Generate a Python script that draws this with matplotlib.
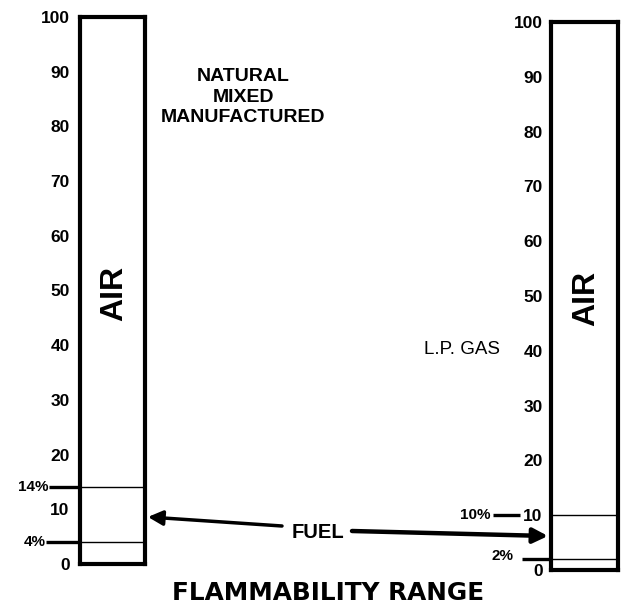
import matplotlib
matplotlib.use("Agg")
import matplotlib.pyplot as plt
import matplotlib.transforms as mtransforms
from matplotlib.patches import ConnectionPatch

NARROW = ['Liberation Sans Narrow', 'Liberation Sans', 'DejaVu Sans']

# data
scale_ticks = [0, 10, 20, 30, 40, 50, 60, 70, 80, 90, 100]
bar_max = 100
gas_names = ["NATURAL\nMIXED\nMANUFACTURED", "L.P. GAS"]
lower_limits = [4, 2]
upper_limits = [14, 10]
lower_labels = ["4%", "2%"]
upper_labels = ["14%", "10%"]
bar_label = "AIR"
fuel_label = "FUEL"
title = "FLAMMABILITY RANGE"

W, H = 622, 612
fig = plt.figure(figsize=(W / 100, H / 100), dpi=100)
fig.patch.set_facecolor("white")

def px_axes(x0, x1, ytop, ybot):
    return fig.add_axes([x0 / W, 1 - ybot / H, (x1 - x0) / W, (ybot - ytop) / H])

axL = px_axes(80, 145, 17, 564)
axR = px_axes(551, 618, 22, 570)

for ax, pad in ((axL, 7.5), (axR, 6.0)):
    ax.set_xlim(0, 1)
    ax.set_ylim(0, bar_max)
    ax.set_xticks([])
    ax.set_yticks(scale_ticks)
    ax.set_yticklabels([str(t) for t in scale_ticks], family=NARROW,
                       fontweight='bold', fontsize=12.5)
    ax.tick_params(axis='y', length=0, pad=pad)
    for s in ax.spines.values():
        s.set_linewidth(3.0)
        s.set_color('black')
    ax.text(0.52, 49.5, bar_label, rotation=90, ha='center', va='center',
            family=NARROW, fontweight='bold', fontsize=23)

# limit lines inside bars
for ax, lo, hi in ((axL, lower_limits[0], upper_limits[0]),
                   (axR, lower_limits[1], upper_limits[1])):
    ax.axhline(lo, color='black', lw=1.0)
    ax.axhline(hi, color='black', lw=1.0)

# outside markers (left bar)
trL = mtransforms.blended_transform_factory(axL.transAxes, axL.transData)
axL.plot([-0.47, 0], [upper_limits[0]] * 2, color='black', lw=2.4,
         transform=trL, clip_on=False, solid_capstyle='butt')
axL.plot([-0.52, 0], [lower_limits[0]] * 2, color='black', lw=2.4,
         transform=trL, clip_on=False, solid_capstyle='butt')
axL.text(-0.48, upper_limits[0], upper_labels[0], transform=trL, ha='right',
         va='center', family=NARROW, fontweight='bold', fontsize=11)
axL.text(-0.53, lower_limits[0], lower_labels[0], transform=trL, ha='right',
         va='center', family=NARROW, fontweight='bold', fontsize=11)

# outside markers (right bar)
trR = mtransforms.blended_transform_factory(axR.transAxes, axR.transData)
axR.plot([-0.866, -0.463], [upper_limits[1]] * 2, color='black', lw=2.4,
         transform=trR, clip_on=False, solid_capstyle='butt')
axR.plot([-0.433, 0], [lower_limits[1]] * 2, color='black', lw=2.4,
         transform=trR, clip_on=False, solid_capstyle='butt')
axR.text(-0.9, upper_limits[1], upper_labels[1], transform=trR, ha='right',
         va='center', family=NARROW, fontweight='bold', fontsize=11)
axR.text(-0.56, lower_limits[1] + 0.6, lower_labels[1], transform=trR, ha='right',
         va='center', family=NARROW, fontweight='bold', fontsize=11)

# gas names
fig.text(243 / W, 1 - 97 / H, gas_names[0], ha='center', va='center',
         family=NARROW, fontweight='bold', fontsize=14, linespacing=1.3)
fig.text(462 / W, 1 - 350 / H, gas_names[1], ha='center', va='center',
         family=NARROW, fontsize=13.5)

# FUEL with arrows
fig.text(317.5 / W, 1 - 532 / H, fuel_label, ha='center', va='center',
         family=NARROW, fontweight='bold', fontsize=14.5)
cL = ConnectionPatch(xyA=(282 / W, 1 - 526 / H), coordsA=fig.transFigure,
                     xyB=(1.045, 8.6), coordsB=trL,
                     arrowstyle='-|>', mutation_scale=22, lw=2.5, color='black',
                     shrinkA=0, shrinkB=0)
fig.add_artist(cL)
cR = ConnectionPatch(xyA=(352 / W, 1 - 531 / H), coordsA=fig.transFigure,
                     xyB=(-0.045, 6.2), coordsB=trR,
                     arrowstyle='-|>', mutation_scale=22, lw=3.2, color='black',
                     shrinkA=0, shrinkB=0)
fig.add_artist(cR)

# title
fig.text(328 / W, 1 - 593 / H, title, ha='center', va='center',
         family='DejaVu Sans', fontweight='bold', fontsize=17.8)

fig.savefig("out.png", dpi=100, facecolor='white')
